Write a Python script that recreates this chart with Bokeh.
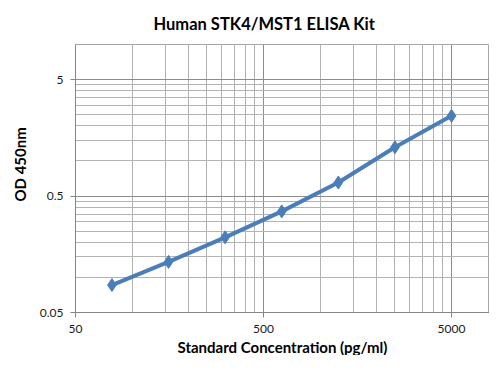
from bokeh.plotting import figure
from bokeh.models import Range1d, FixedTicker, CustomJSTickFormatter, Title
from bokeh.embed import file_html
from bokeh.resources import INLINE

# Data: standard concentration (pg/ml) vs OD 450nm
concentration = [78.125, 156.25, 312.5, 625, 1250, 2500, 5000]
od450 = [0.086, 0.136, 0.221, 0.369, 0.653, 1.31, 2.44]

x_major = [50, 500, 5000]
x_minor = [100, 150, 200, 250, 300, 350, 400, 450,
           1000, 1500, 2000, 2500, 3000, 3500, 4000, 4500]
y_major = [0.05, 0.5, 5]
y_minor = [0.1, 0.15, 0.2, 0.25, 0.3, 0.35, 0.4, 0.45,
           1, 1.5, 2, 2.5, 3, 3.5, 4, 4.5, 10]

FONT = "Lato"
BLUE = "#4a7ebb"

p = figure(frame_width=414, height=355, x_axis_type="log", y_axis_type="log",
           x_range=Range1d(50, 7960), y_range=Range1d(0.05, 10),
           output_backend="svg", toolbar_location=None,
           min_border_left=0, min_border_right=0, min_border_top=0,
           min_border_bottom=0)

p.title.text = "Human STK4/MST1 ELISA Kit"
p.title.text_font = FONT
p.title.text_font_size = "16.5px"
p.title.text_font_style = "bold"
p.title.text_color = "#000000"
p.title.align = "left"
p.title.offset = 78
p.title.standoff = 22

xtitle = Title(text="Standard Concentration (pg/ml)", align="center",
               text_font=FONT, text_font_size="15px", text_font_style="bold",
               text_color="#000000", standoff=0)
ytitle = Title(text="OD 450nm", align="left", offset=111,
               text_font=FONT, text_font_size="15px", text_font_style="bold",
               text_color="#000000", standoff=16)
p.add_layout(xtitle, "below")
p.add_layout(ytitle, "left")

p.outline_line_color = "#a6a6a6"
p.outline_line_width = 1

xt = FixedTicker(ticks=x_major, minor_ticks=x_minor)
yt = FixedTicker(ticks=y_major, minor_ticks=y_minor)
p.xaxis.ticker = xt
p.yaxis.ticker = yt
p.xaxis.formatter = CustomJSTickFormatter(code="return tick.toString();")
p.yaxis.formatter = CustomJSTickFormatter(code="return tick.toString();")

for ax in (p.xaxis, p.yaxis):
    ax.axis_line_color = "#868686"
    ax.major_tick_line_color = "#868686"
    ax.major_tick_out = 5
    ax.major_tick_in = 0
    ax.minor_tick_out = 0
    ax.minor_tick_in = 0
    ax.major_label_text_font = FONT
    ax.major_label_text_font_size = "12px"
    ax.major_label_text_color = "#1a1a1a"

p.xaxis.major_label_standoff = 7
p.yaxis.major_label_standoff = 7

for g in (p.xgrid, p.ygrid):
    g.grid_line_color = "#8c8c8c"
    g.grid_line_width = 1
    g.minor_grid_line_color = "#b3b3b3"
    g.minor_grid_line_width = 1
p.xgrid.ticker = xt
p.ygrid.ticker = yt

p.line(concentration, od450, line_color=BLUE, line_width=4)
p.scatter(concentration, od450, marker="diamond", size=13,
          fill_color=BLUE, line_color=BLUE)

open("out.html", "w").write(file_html(p, INLINE))
